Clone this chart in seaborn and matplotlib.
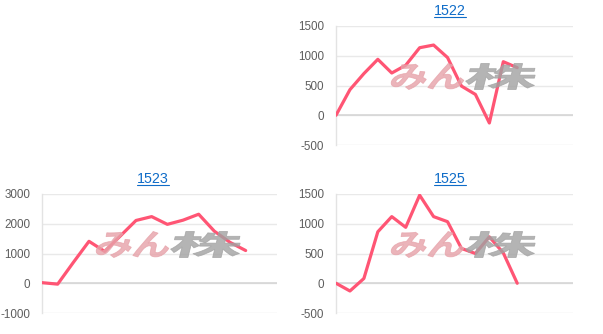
import numpy as np
import pandas as pd
import matplotlib
matplotlib.use("Agg")
import matplotlib.pyplot as plt
import seaborn as sns
from matplotlib.textpath import TextPath
from matplotlib.patches import PathPatch
from matplotlib.font_manager import FontProperties
from matplotlib.transforms import Affine2D
from matplotlib.lines import Line2D

# ---- data ----
titles = ["1522", "1523", "1525"]
vals_1522 = [0, 430, 700, 940, 710, 840, 1135, 1180, 970, 490, 350, -130, 900, 800]
vals_1523 = [20, -30, 700, 1410, 1070, 1590, 2110, 2240, 1980, 2120, 2320, 1750, 1375, 1100]
vals_1525 = [0, -130, 80, 865, 1120, 940, 1480, 1120, 1035, 585, 500, 780, 510, 0]
yticks_1522 = [-500, 0, 500, 1000, 1500]
yticks_1523 = [-1000, 0, 1000, 2000, 3000]
yticks_1525 = [-500, 0, 500, 1000, 1500]
xmax = [17, 15, 17]

W, H = 603, 334
sns.set_theme(style="white")
plt.rcParams['font.family'] = ['Liberation Sans', 'DejaVu Sans']
fig = plt.figure(figsize=(W / 100, H / 100), dpi=100)

# axes boxes in pixels: left, right, top, bottom
boxes = [(336, 573, 26, 145), (42, 277, 194, 313), (336, 573, 194, 313)]
title_pos = [(450, 11), (153, 179), (450, 179)]
series = [vals_1522, vals_1523, vals_1525]
ticks = [yticks_1522, yticks_1523, yticks_1525]

LINE = '#ff5574'
GRID = '#e9e9e9'

cjk = FontProperties(family='Noto Sans CJK JP', weight='bold')


def add_logo(cx, cy):
    # cx, cy in pixels from top-left
    parts = [("みん", '#e6a2a9', 72, cx - 72), ("株", '#a2a2a2', 70, cx + 2)]
    h = 26
    for txt, col, w, x0 in parts:
        tp = TextPath((0, 0), txt, size=1, prop=cjk)
        ext = tp.get_extents()
        sx = w / ext.width
        sy = h / ext.height
        tr = (Affine2D().translate(-ext.x0, -ext.y0).scale(sx, sy)
              .skew_deg(14, 0)
              .translate(x0 - 3, H - (cy + h / 2))
              .scale(1 / W, 1 / H)) + fig.transFigure
        p = PathPatch(tp, transform=tr, facecolor=col, edgecolor=col,
                      linewidth=0.6, alpha=0.8, zorder=1.5)
        fig.add_artist(p)


axes = []
for i in range(3):
    l, r, t, b = boxes[i]
    ax = fig.add_axes([l / W, 1 - b / H, (r - l) / W, (b - t) / H])
    df = pd.DataFrame({"x": np.arange(len(series[i])), "y": series[i]})
    sns.lineplot(data=df, x="x", y="y", ax=ax, color=LINE, linewidth=2.3,
                 zorder=3)
    yt = ticks[i]
    ax.set_ylim(yt[0], yt[-1])
    ax.set_xlim(0, xmax[i])
    ax.set_yticks(yt)
    ax.set_yticklabels([str(v) for v in yt])
    ax.set_xticks([])
    ax.set_xlabel("")
    ax.set_ylabel("")
    ax.yaxis.grid(True, color=GRID, linewidth=1)
    ax.xaxis.grid(False)
    ax.axhline(0, color='#d4d4d4', linewidth=1.1, zorder=1)
    for s in ['top', 'right', 'bottom']:
        ax.spines[s].set_visible(False)
    ax.spines['left'].set_color('#e3e3e3')
    ax.spines['left'].set_linewidth(1)
    ax.tick_params(axis='y', length=7, color=GRID, width=1, pad=1.5,
                   labelsize=8.4, labelcolor='#5e5e5e')
    ax.patch.set_alpha(0)
    axes.append(ax)
    add_logo((l + r) / 2 + 10, (t + b) / 2 - 9)

# titles with underline
fig.canvas.draw()
renderer = fig.canvas.get_renderer()
for i in range(3):
    tx, ty = title_pos[i]
    t = fig.text(tx / W, 1 - ty / H, titles[i], ha='center', va='center',
                 fontsize=10.3, color='#0f6cc8')
    bb = t.get_window_extent(renderer=renderer)
    uy = 1 - (ty + 5.8) / H
    fig.add_artist(Line2D([bb.x0 / W, bb.x1 / W], [uy, uy],
                          transform=fig.transFigure, color='#0f6cc8',
                          linewidth=0.8))

fig.savefig("out.png", dpi=100)
